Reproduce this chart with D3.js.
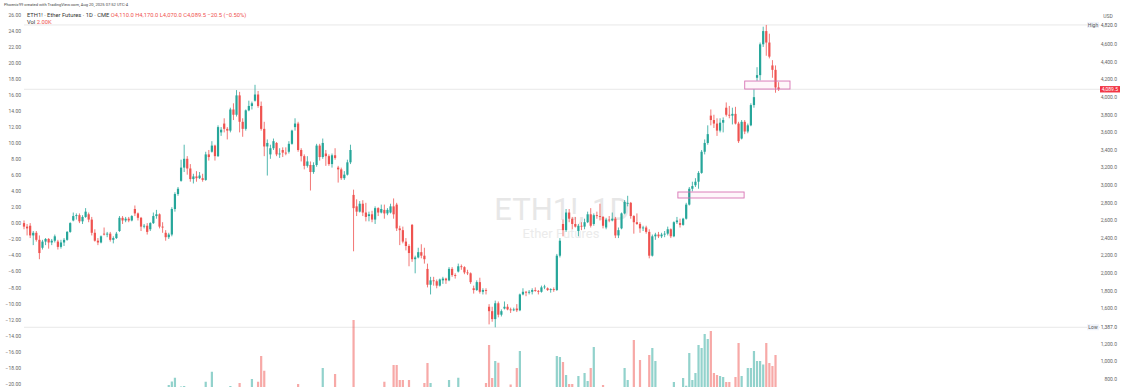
<!DOCTYPE html>
<html>
<head>
<meta charset="utf-8">
<script src="https://cdn.jsdelivr.net/npm/d3@7"></script>
<style>
  html, body { margin: 0; padding: 0; background: #ffffff; }
  svg { display: block; font-family: Roboto, "Noto Sans", sans-serif; }
</style>
</head>
<body>
<svg id="chart" width="1125" height="387"></svg>
<script>
// daily candles, ETH1! (CME), rows are [open, high, low, close, volume K]
const aug24 = [
  [2570, 2600, 2500, 2530, 1.4], [2530, 2560, 2430, 2510, 1.3],
];
const sep24 = [
  [2540, 2570, 2400, 2430, 1.6], [2430, 2480, 2320, 2460, 1.5], [2460, 2480, 2360, 2380, 1.4],
  [2380, 2430, 2160, 2230, 1.9], [2290, 2380, 2270, 2360, 1.5], [2360, 2400, 2320, 2390, 1.2],
  [2390, 2400, 2280, 2350, 1.3], [2350, 2390, 2320, 2370, 1.1], [2370, 2440, 2350, 2420, 1.2],
  [2360, 2380, 2270, 2300, 1.4], [2300, 2380, 2280, 2350, 1.2], [2350, 2400, 2310, 2380, 1.5],
  [2380, 2480, 2370, 2470, 1.6], [2470, 2580, 2460, 2570, 1.7], [2600, 2690, 2590, 2650, 1.5],
  [2650, 2680, 2610, 2660, 1.2], [2660, 2680, 2570, 2590, 1.3], [2590, 2660, 2560, 2640, 1.4],
  [2640, 2740, 2630, 2700, 1.6], [2670, 2690, 2580, 2610, 1.3],
];
const oct24 = [
  [2610, 2640, 2430, 2460, 1.8], [2460, 2500, 2360, 2370, 1.6], [2370, 2400, 2320, 2350, 1.4],
  [2350, 2430, 2340, 2420, 1.2], [2450, 2520, 2430, 2440, 1.3], [2440, 2470, 2410, 2450, 1.0],
  [2450, 2470, 2360, 2380, 1.2], [2380, 2420, 2340, 2400, 1.3], [2400, 2470, 2390, 2450, 1.1],
  [2480, 2650, 2470, 2630, 1.8], [2630, 2650, 2560, 2600, 1.5], [2600, 2640, 2580, 2620, 1.2],
  [2620, 2640, 2580, 2600, 1.1], [2600, 2660, 2590, 2650, 1.2], [2730, 2770, 2650, 2680, 1.6],
  [2680, 2690, 2600, 2630, 1.3], [2630, 2640, 2480, 2530, 1.7], [2530, 2560, 2510, 2540, 1.1],
  [2540, 2570, 2440, 2470, 1.5], [2500, 2580, 2480, 2570, 1.3], [2570, 2690, 2560, 2650, 1.6],
  [2650, 2720, 2620, 2670, 1.4], [2670, 2680, 2510, 2530, 1.7],
];
const nov24 = [
  [2530, 2580, 2460, 2520, 1.5], [2460, 2490, 2370, 2410, 1.6], [2410, 2460, 2390, 2440, 2.8],
  [2440, 2750, 2420, 2730, 4.2], [2730, 2920, 2700, 2900, 5.7], [2900, 2980, 2880, 2960, 2.0],
  [3050, 3290, 3040, 3200, 2.2], [3200, 3460, 3150, 3300, 2.4], [3300, 3330, 3120, 3190, 1.9],
  [3190, 3240, 3040, 3070, 1.8], [3070, 3130, 3020, 3100, 1.4], [3100, 3160, 3040, 3080, 1.3],
  [3080, 3150, 3070, 3110, 1.2], [3080, 3130, 3040, 3060, 1.3], [3060, 3380, 3050, 3350, 4.1],
  [3350, 3400, 3280, 3320, 1.6], [3380, 3500, 3370, 3450, 8.1], [3450, 3460, 3280, 3330, 1.7],
  [3330, 3680, 3320, 3660, 1.9], [3600, 3660, 3560, 3630, 1.2],
];
const dec24 = [
  [3700, 3760, 3600, 3640, 1.8], [3640, 3660, 3520, 3620, 1.5], [3620, 3880, 3600, 3860, 2.4],
  [3860, 3930, 3740, 3800, 1.6], [3800, 4080, 3780, 4020, 1.9], [4020, 4060, 3600, 3720, 3.6],
  [3720, 3760, 3550, 3640, 1.9], [3640, 3860, 3620, 3850, 1.6], [3850, 3960, 3840, 3900, 1.4],
  [3900, 3950, 3860, 3930, 5.2], [3960, 4140, 3950, 4030, 1.8], [4030, 4070, 3880, 3900, 4.1],
  [3900, 3950, 3620, 3640, 14.4], [3640, 3720, 3330, 3440, 8.5], [3440, 3520, 3110, 3480, 1.9],
  [3350, 3460, 3300, 3420, 1.4], [3420, 3530, 3400, 3500, 1.1], [3480, 3490, 3330, 3350, 1.3],
  [3350, 3420, 3310, 3360, 1.2], [3400, 3430, 3320, 3370, 1.3], [3370, 3430, 3340, 3360, 1.1],
];
const jan25 = [
  [3380, 3500, 3360, 3470, 1.3], [3470, 3630, 3460, 3620, 1.4], [3660, 3760, 3620, 3700, 1.6],
  [3700, 3720, 3380, 3400, 3.2], [3400, 3420, 3270, 3330, 1.9], [3330, 3350, 3180, 3220, 1.5],
  [3220, 3330, 3200, 3270, 1.3], [3230, 3270, 2940, 3150, 1.9], [3150, 3260, 3130, 3230, 1.4],
  [3230, 3470, 3210, 3450, 1.7], [3450, 3470, 3280, 3320, 1.5], [3320, 3530, 3300, 3480, 9.6],
  [3360, 3400, 3220, 3330, 1.6], [3330, 3350, 3220, 3240, 1.3], [3240, 3360, 3200, 3340, 1.4],
  [3340, 3420, 3290, 3310, 7.2], [3200, 3220, 3030, 3180, 1.9], [3180, 3200, 3060, 3080, 1.5],
  [3080, 3160, 3060, 3120, 1.3], [3120, 3290, 3110, 3260, 1.6], [3260, 3460, 3240, 3400, 1.8],
];
const feb25 = [
  [2890, 2950, 2250, 2740, 28.8], [2760, 2840, 2650, 2700, 1.9], [2700, 2820, 2690, 2790, 1.6],
  [2790, 2830, 2650, 2690, 1.5], [2690, 2800, 2590, 2640, 1.4], [2650, 2700, 2590, 2670, 1.2],
  [2670, 2710, 2580, 2610, 1.3], [2610, 2760, 2560, 2740, 1.4], [2740, 2750, 2650, 2690, 1.2],
  [2690, 2780, 2680, 2730, 1.1], [2720, 2780, 2620, 2680, 4.1], [2680, 2740, 2660, 2720, 1.2],
  [2690, 2790, 2680, 2760, 1.4], [2760, 2850, 2620, 2670, 10.8], [2780, 2800, 2480, 2510, 10.8],
  [2510, 2540, 2320, 2490, 4.8], [2490, 2530, 2340, 2360, 4.8], [2360, 2400, 2260, 2310, 1.9],
  [2310, 2330, 2080, 2230, 4.8],
];
const mar25 = [
  [2550, 2560, 2130, 2160, 1.9], [2160, 2200, 2000, 2180, 1.7], [2180, 2290, 2170, 2240, 1.4],
  [2240, 2330, 2170, 2200, 1.3], [2200, 2290, 2110, 2160, 3.6], [2050, 2110, 1840, 1870, 11.6],
  [1870, 1960, 1760, 1920, 3.6], [1920, 1960, 1860, 1910, 1.5], [1910, 1930, 1830, 1860, 1.4],
  [1860, 1940, 1850, 1930, 1.2], [1920, 1960, 1880, 1940, 1.1], [1940, 1950, 1880, 1920, 1.2],
  [1920, 2070, 1910, 2050, 4.8], [2050, 2070, 1960, 1980, 1.5], [1980, 2000, 1940, 1970, 1.2],
  [2020, 2110, 2010, 2080, 5.7], [2080, 2100, 2040, 2070, 1.2], [2070, 2080, 1990, 2010, 1.3],
  [2010, 2040, 1980, 2000, 1.1], [2000, 2010, 1880, 1900, 1.5], [1830, 1860, 1770, 1810, 1.4],
];
const apr25 = [
  [1810, 1920, 1800, 1900, 1.4], [1900, 1950, 1770, 1790, 1.6], [1790, 1830, 1760, 1810, 1.3],
  [1810, 1830, 1760, 1800, 3.6], [1620, 1650, 1420, 1570, 18.8], [1570, 1620, 1450, 1480, 5.6],
  [1480, 1690, 1387, 1660, 12.4], [1660, 1680, 1500, 1530, 11.7], [1530, 1590, 1510, 1570, 1.9],
  [1600, 1680, 1590, 1620, 1.5], [1620, 1650, 1580, 1590, 1.3], [1590, 1610, 1550, 1580, 3.0],
  [1580, 1610, 1570, 1590, 1.1], [1600, 1650, 1560, 1580, 9.6], [1580, 1770, 1570, 1760, 16.4],
  [1760, 1830, 1750, 1790, 1.9], [1790, 1800, 1740, 1780, 1.5], [1780, 1810, 1760, 1790, 1.3],
  [1790, 1830, 1760, 1810, 1.4], [1810, 1840, 1790, 1800, 1.2], [1800, 1810, 1760, 1790, 1.3],
];
const may25 = [
  [1790, 1860, 1780, 1840, 1.5], [1840, 1870, 1820, 1850, 1.3], [1830, 1840, 1800, 1810, 1.2],
  [1810, 1830, 1780, 1820, 1.3], [1820, 1840, 1790, 1810, 1.4], [1810, 2220, 1800, 2200, 14.4],
  [2200, 2400, 2180, 2370, 14.0], [2560, 2610, 2420, 2490, 12.0], [2490, 2730, 2470, 2690, 6.8],
  [2690, 2730, 2580, 2620, 3.2], [2620, 2640, 2500, 2560, 3.2], [2560, 2640, 2520, 2530, 1.6],
  [2480, 2560, 2420, 2540, 6.4], [2540, 2580, 2490, 2530, 1.5], [2530, 2620, 2500, 2580, 7.6],
  [2580, 2700, 2570, 2670, 4.4], [2670, 2740, 2520, 2540, 9.6], [2560, 2680, 2540, 2660, 18.0],
  [2660, 2700, 2620, 2650, 1.5], [2650, 2790, 2600, 2640, 1.6], [2640, 2650, 2510, 2540, 2.8],
];
const jun25 = [
  [2520, 2630, 2500, 2610, 1.4], [2610, 2650, 2580, 2600, 1.2], [2600, 2690, 2590, 2620, 1.3],
  [2620, 2640, 2400, 2430, 1.9], [2430, 2520, 2400, 2490, 1.4], [2510, 2690, 2500, 2680, 1.8],
  [2680, 2830, 2670, 2810, 9.6], [2790, 2880, 2760, 2800, 4.8], [2800, 2810, 2620, 2650, 1.9],
  [2650, 2660, 2450, 2580, 20.8], [2580, 2680, 2550, 2560, 1.6], [2560, 2580, 2460, 2510, 12.8],
  [2510, 2540, 2480, 2520, 1.3], [2520, 2540, 2450, 2470, 1.6], [2470, 2500, 2170, 2200, 14.8],
  [2200, 2440, 2190, 2420, 17.6], [2420, 2460, 2380, 2440, 12.4], [2440, 2470, 2400, 2420, 1.4],
  [2420, 2460, 2400, 2440, 1.2], [2440, 2480, 2410, 2450, 1.3], [2450, 2530, 2430, 2500, 1.4],
];
const jul25 = [
  [2500, 2510, 2400, 2420, 1.5], [2420, 2590, 2410, 2580, 4.0], [2580, 2640, 2560, 2600, 1.3],
  [2570, 2620, 2520, 2550, 1.4], [2550, 2630, 2540, 2620, 5.6], [2620, 2800, 2610, 2780, 2.5],
  [2780, 2980, 2770, 2960, 15.6], [2960, 3040, 2930, 2990, 4.8], [3000, 3080, 2980, 3040, 7.6],
  [3040, 3160, 2960, 3140, 18.8], [3140, 3400, 3130, 3380, 17.6], [3380, 3520, 3350, 3480, 23.2],
  [3480, 3680, 3460, 3580, 21.2], [3790, 3860, 3680, 3740, 24.4], [3740, 3800, 3650, 3700, 7.6],
  [3700, 3760, 3560, 3620, 6.8], [3620, 3760, 3600, 3710, 6.4], [3710, 3770, 3600, 3740, 6.0],
  [3880, 3940, 3780, 3800, 4.0], [3800, 3900, 3760, 3790, 4.0], [3790, 3880, 3690, 3810, 1.8],
  [3810, 3890, 3690, 3700, 6.0],
];
const aug25 = [
  [3700, 3720, 3480, 3500, 19.6], [3530, 3740, 3520, 3720, 6.4], [3720, 3740, 3580, 3610, 1.8],
  [3610, 3700, 3590, 3680, 9.6], [3680, 3930, 3670, 3910, 9.6], [3910, 4090, 3880, 4000, 16.4],
  [4220, 4340, 4185, 4250, 12.4], [4250, 4620, 4190, 4600, 12.4], [4600, 4800, 4570, 4750, 11.0],
  [4750, 4820, 4470, 4620, 19.6], [4620, 4720, 4440, 4460, 11.6], [4360, 4420, 4220, 4310, 10.4],
  [4310, 4360, 4050, 4110, 14.8], [4110, 4170, 4070, 4089.5, 2.0],
];

// drawn rectangles: candle index span and price span
const zones = [
  { from: 212.3, to: 233.8, lo: 2855, hi: 2923 },
  { from: 234, to: 248.7, lo: 4092, hi: 4183 },
];

const priceTicks = [800, 1000, 1200, 1600, 1800, 2000, 2200, 2400, 2600, 2800, 3000,
  3200, 3400, 3600, 3800, 4000, 4200, 4400, 4600];
const pctTicks = d3.range(-20, 27, 2);

const title = "ETH1! · Ether Futures · 1D · CME";
const byline = "Phoenix99 created with TradingView.com, Aug 20, 2025 07:52 UTC-4";
const watermark = "ETH1!, 1D";
const watermarkSub = "Ether Futures";

const candles = [].concat(aug24, sep24, oct24, nov24, dec24, jan25, feb25, mar25,
  apr25, may25, jun25, jul25, aug25).map((d, i) => ({
  i, o: d[0], h: d[1], l: d[2], c: d[3], v: d[4],
}));

const UP = "#26a69a", DOWN = "#ef5350";
const svg = d3.select("#chart");

const x = d3.scaleLinear().domain([0, candles.length - 1]).range([24, 778.6]);
const y = d3.scaleLinear().domain([800, 4600]).range([379, 44.3]);
const yPct = d3.scaleLinear().domain([-20, 26]).range([384, 15]);
const yVol = d3.scaleLinear().domain([0, 30]).range([392, 317]);

const last = candles[candles.length - 1];
const prev = candles[candles.length - 2];
const hi = d3.max(candles, (d) => d.h);
const lo = d3.min(candles, (d) => d.l);
const fmt = d3.format(",.1f");
const color = (d) => (d.c >= d.o ? UP : DOWN);

// watermark
svg.append("text")
  .attr("x", 562).attr("y", 220)
  .attr("text-anchor", "middle")
  .attr("font-size", 31)
  .attr("fill", "#e7e7e7")
  .text(watermark);
svg.append("text")
  .attr("x", 561).attr("y", 238)
  .attr("text-anchor", "middle")
  .attr("font-size", 13)
  .attr("fill", "#ebebeb")
  .text(watermarkSub);

// high / low / last price lines
const lines = svg.append("g");
[hi, lo, last.c].forEach((p) => {
  lines.append("line")
    .attr("x1", 24).attr("x2", 1100)
    .attr("y1", y(p)).attr("y2", y(p))
    .attr("stroke", "#e2e2e2")
    .attr("stroke-width", 0.8);
});

// volume
svg.append("g")
  .selectAll("rect")
  .data(candles)
  .join("rect")
  .attr("x", (d) => x(d.i) - 1.1)
  .attr("width", 2.2)
  .attr("y", (d) => yVol(d.v))
  .attr("height", (d) => yVol(0) - yVol(d.v))
  .attr("fill", color)
  .attr("opacity", 0.5);

// candles
const cg = svg.append("g");
cg.selectAll("line")
  .data(candles)
  .join("line")
  .attr("x1", (d) => x(d.i)).attr("x2", (d) => x(d.i))
  .attr("y1", (d) => y(d.h)).attr("y2", (d) => y(d.l))
  .attr("stroke", color)
  .attr("stroke-width", 0.8);
cg.selectAll("rect")
  .data(candles)
  .join("rect")
  .attr("x", (d) => x(d.i) - 1.1)
  .attr("width", 2.2)
  .attr("y", (d) => y(Math.max(d.o, d.c)))
  .attr("height", (d) => Math.max(0.8, Math.abs(y(d.o) - y(d.c))))
  .attr("fill", color);

// zones
svg.append("g")
  .selectAll("rect")
  .data(zones)
  .join("rect")
  .attr("x", (d) => x(d.from))
  .attr("width", (d) => x(d.to) - x(d.from))
  .attr("y", (d) => y(d.hi))
  .attr("height", (d) => y(d.lo) - y(d.hi))
  .attr("fill", "rgba(233, 30, 140, 0.04)")
  .attr("stroke", "#d772b4")
  .attr("stroke-width", 0.9);

// left scale
svg.append("g")
  .selectAll("text")
  .data(pctTicks)
  .join("text")
  .attr("x", 21)
  .attr("y", (d) => yPct(d) + 1.8)
  .attr("text-anchor", "end")
  .attr("font-size", 5)
  .attr("fill", "#666")
  .text((d) => d3.format(".2f")(d).replace("-", "−"));

// right scale
const ra = svg.append("g").attr("font-size", 5).attr("fill", "#666");
ra.selectAll("text")
  .data(priceTicks)
  .join("text")
  .attr("x", 1117)
  .attr("y", (d) => y(d) + 1.8)
  .attr("text-anchor", "end")
  .text((d) => fmt(d));
ra.append("text").attr("x", 1108).attr("y", 17.5).attr("text-anchor", "middle").text("USD");

[["High", hi], ["Low", lo]].forEach(([name, p]) => {
  ra.append("rect")
    .attr("x", 1087).attr("y", y(p) - 3)
    .attr("width", 12).attr("height", 6)
    .attr("fill", "#f0f3fa");
  ra.append("text")
    .attr("x", 1093).attr("y", y(p) + 1.8)
    .attr("text-anchor", "middle")
    .attr("fill", "#555")
    .text(name);
  ra.append("text")
    .attr("x", 1117).attr("y", y(p) + 1.8)
    .attr("text-anchor", "end")
    .attr("fill", "#555")
    .text(fmt(p));
});

ra.append("rect")
  .attr("x", 1100).attr("y", y(last.c) - 3.2)
  .attr("width", 20).attr("height", 6.4)
  .attr("fill", "#f23645");
ra.append("text")
  .attr("x", 1118).attr("y", y(last.c) + 1.8)
  .attr("text-anchor", "end")
  .attr("fill", "#fff")
  .text(fmt(last.c));

// header
svg.append("text")
  .attr("x", 4).attr("y", 6.2)
  .attr("font-size", 4.1)
  .attr("fill", "#444")
  .text(byline);

const chg = last.c - prev.c;
const pct = d3.format(".2f")((chg / prev.c) * 100).replace("-", "−");
const legend = svg.append("text")
  .attr("x", 27).attr("y", 17.4)
  .attr("font-size", 5.8)
  .attr("fill", "#333");
legend.append("tspan").text(title + "  ");
legend.append("tspan")
  .attr("fill", color(last))
  .text(`O${fmt(last.o)}  H${fmt(last.h)}  L${fmt(last.l)}  C${fmt(last.c)}  ` +
    `${fmt(chg).replace("-", "−")} (${pct}%)`);

const vol = svg.append("text")
  .attr("x", 27).attr("y", 24)
  .attr("font-size", 5.8)
  .attr("fill", "#333");
vol.append("tspan").text("Vol ");
vol.append("tspan").attr("fill", color(last)).text(d3.format(".2f")(last.v) + "K");
</script>
</body>
</html>
